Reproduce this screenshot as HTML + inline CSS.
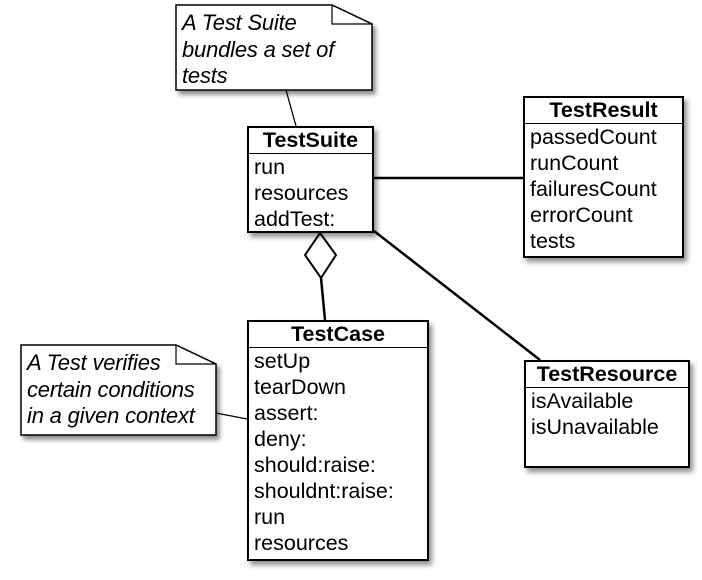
<!DOCTYPE html>
<html><head><meta charset="utf-8"><style>
body{margin:0;background:#fff;width:702px;height:580px;overflow:hidden;position:relative;font-family:"Liberation Sans",Arial,sans-serif}
.box{position:absolute;border:2px solid #000;background:#fff;box-shadow:3px 4px 5px rgba(0,0,0,.45);box-sizing:border-box;overflow:hidden}
.hd{font-weight:bold;font-size:21.5px;text-align:center;border-bottom:1.5px solid #000;line-height:25px;white-space:nowrap}
.it{font-size:21.5px;line-height:26px;padding-left:5px;white-space:nowrap;letter-spacing:0}
.note{position:absolute;font-style:italic;font-size:22px;line-height:26.5px;padding:5px 0 0 6px;box-sizing:border-box;white-space:nowrap;letter-spacing:-0.2px}
</style></head><body>
<svg width="702" height="580" style="position:absolute;left:0;top:0">
<defs><filter id="s"><feDropShadow dx="3" dy="4" stdDeviation="2.5" flood-opacity=".45"/></filter></defs>
<path d="M176,5 L332,5 L372,24 L372,90 L176,90 Z" fill="#fff" stroke="#000" stroke-width="1.5" filter="url(#s)"/>
<path d="M332,5 L332,24 L372,24" fill="none" stroke="#000" stroke-width="1.2"/>
<path d="M21,345 L176,345 L216,364 L216,435 L21,435 Z" fill="#fff" stroke="#000" stroke-width="1.5" filter="url(#s)"/>
<path d="M176,345 L176,364 L216,364" fill="none" stroke="#000" stroke-width="1.2"/>
<line x1="286" y1="90" x2="296" y2="126" stroke="#000" stroke-width="1.3"/>
<line x1="216" y1="413" x2="247" y2="419" stroke="#000" stroke-width="1.3"/>
<line x1="373" y1="178" x2="523" y2="178" stroke="#000" stroke-width="2.5"/>
<line x1="374" y1="231" x2="540" y2="360" stroke="#000" stroke-width="2.5"/>
<line x1="321" y1="278" x2="325" y2="320" stroke="#000" stroke-width="2.5"/>
<path d="M320,233 L336,255 L321,278 L305,255 Z" fill="#fff" stroke="#000" stroke-width="2"/>
</svg>
<div class="note" style="left:176px;top:5px;width:196px">A Test Suite<br>bundles a set of<br>tests</div>
<div class="note" style="left:21px;top:345px;width:195px">A Test verifies<br>certain conditions<br>in a given context</div>
<div class="box" style="left:247px;top:126px;width:127px;height:107px"><div class="hd">TestSuite</div><div class="it">run<br>resources<br>addTest:</div></div>
<div class="box" style="left:523px;top:96px;width:161px;height:162px"><div class="hd">TestResult</div><div class="it">passedCount<br>runCount<br>failuresCount<br>errorCount<br>tests</div></div>
<div class="box" style="left:247px;top:320px;width:182px;height:241px"><div class="hd">TestCase</div><div class="it">setUp<br>tearDown<br>assert:<br>deny:<br>should:raise:<br>shouldnt:raise:<br>run<br>resources</div></div>
<div class="box" style="left:524px;top:360px;width:166px;height:108px"><div class="hd">TestResource</div><div class="it">isAvailable<br>isUnavailable</div></div>
</body></html>
